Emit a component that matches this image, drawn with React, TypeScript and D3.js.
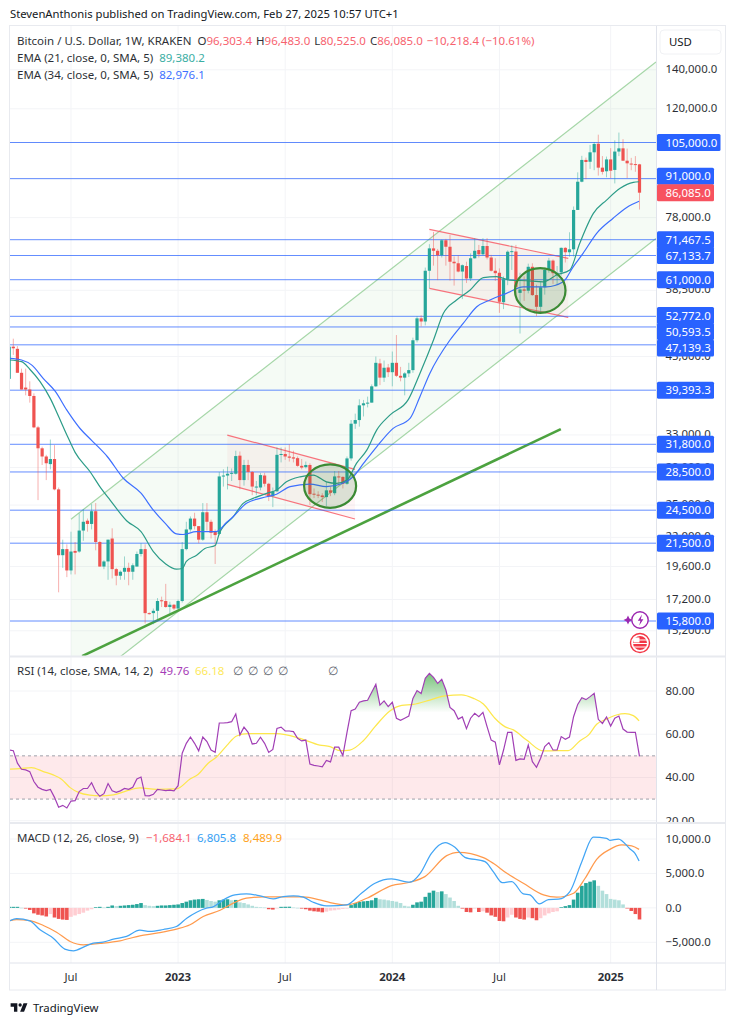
import React from "react";
import * as d3 from "d3";

type Row = [number, number, number, number];

// Weekly candles, open / high / low / close, first row is the week before index 0
const ohlc2022: Row[] = [
  [41200,47700,40500,46800],[46800,48300,45300,46500],[46400,46900,42200,42200],[42200,42900,39500,39500],
  [39800,42900,38600,39500],[39500,40800,37500,38500],[38500,38900,33900,34000],[34000,34200,25500,31300],
  [31300,31500,29300,30300],[30300,30500,27600,29500],[29400,32400,28800,30000],[30000,31700,26500,26600],
  [26600,26800,17700,20500],[20500,21800,19500,21000],[21000,21400,18800,19300],[19300,22500,19000,20800],
  [20850,21600,19000,20700],[20800,24200,20700,22600],[22600,24600,21700,23400],[23500,23700,22500,23200],
  [23200,25100,22700,24400],[24400,25200,20900,21600],[21600,21700,19600,19600],[19600,20100,19400,20000],
  [20000,21800,18600,21800],[21900,22800,18700,19400],[19400,19500,18200,18900],[18900,19300,18600,19200],
  [19200,20400,18600,19500],[19500,19900,18200,19200],[19200,19850,18600,19700],[19600,20800,19600,20600],
  [20600,21500,20400,21000],[21000,21400,15650,16300],[16300,16350,16200,16250],[16300,16600,15600,16450],
  [16450,17300,15900,17100],[17150,17400,16700,17100],[17100,18300,16650,16700],[16700,17050,16300,16850],
  [16850,16900,16500,16600],
];
const ohlc2023: Row[] = [
  [16600,17200,16550,17100],[17100,21600,17000,21000],[21000,23400,20900,22700],[22700,23900,22500,23700],
  [23700,24250,22700,23000],[23000,23000,21500,21800],[21800,25200,21700,24300],[24300,25200,22600,23400],
  [23400,23600,21900,22400],[22500,22700,19800,22200],[22300,28500,22200,28000],[28000,28800,26900,28100],
  [28100,29100,26600,28300],[28300,28900,27500,28400],[28300,31000,28200,30350],[30400,30900,26600,27600],
  [27600,29900,27000,29300],[29300,29900,27600,28500],[28500,28600,26000,26900],[26800,27500,26000,26900],
  [26800,28400,26500,28150],[28100,28400,26900,27200],[27200,27300,25400,25900],[25900,26800,24800,26350],
  [26400,31400,26300,30500],[30500,31400,29600,30600],[30600,31400,29900,30300],[30300,31800,29700,30150],
  [30200,31000,29600,30050],[30100,30300,29100,29200],[29200,30000,28800,29000],[29050,29700,28900,29300],
  [29300,29500,25000,26100],[26150,26700,25700,26050],[26050,26400,25700,25970],[25970,26200,25300,25800],
  [25800,27400,24900,26500],[26500,26900,25900,26250],[26200,28600,26000,28000],
  [28000,28600,27000,27950],[27950,28000,26700,27200],[27200,30300,27100,30070],[30070,35000,29800,34500],
  [34500,35900,33800,35000],[35000,38000,34100,37100],[37100,37900,35500,37400],[37400,38400,36800,37500],
  [37500,40300,37500,40000],[40000,45000,39900,43900],[43800,44600,40200,41400],[41400,44300,40700,43050],
];
const ohlc2024: Row[] = [
  [43100,43700,41500,42300],[42300,45900,40000,43900],[43900,49000,41500,41700],[41700,43200,40800,41400],
  [41400,42300,38600,42100],[42100,43900,41500,42650],[42650,48500,42200,48000],[48000,52800,47600,52350],
  [52350,53000,50700,51700],[51700,64000,50900,63200],[63200,70200,59000,69050],[69050,73700,64500,68400],
  [68400,68900,60900,67200],[67200,71500,66600,71300],[71300,71700,64500,69500],[69500,72800,60800,65500],
  [65500,66900,59600,65100],[65100,67200,62800,63000],[63000,64800,56500,64600],[64400,65500,60200,61300],
  [61300,67700,60700,66400],[66400,71900,66300,68400],[68600,70000,66600,67450],[67450,71900,67200,69700],
  [69700,71900,66100,66600],[66600,67300,63000,63200],[63200,66400,60700,62600],[62700,63800,53500,55900],
  [55800,61800,54300,61100],[61100,68500,59700,68150],[68150,69900,63400,68300],[68200,70000,57100,59300],
  [57900,62700,49300,58700],[58700,61800,56100,58400],[58400,65000,57800,64200],[64200,65100,57200,57400],
  [57400,59800,52800,54800],[54800,60600,53600,59200],[59200,64000,57500,63400],[63400,66500,62700,65800],
  [65800,66100,60000,62600],[62200,64400,59800,62700],[62800,69300,62000,69200],[69200,69400,65300,68000],
  [68000,73600,66800,68800],[68800,81500,66900,80400],[80400,93300,80400,89900],[89900,99600,89700,98000],
  [98000,98900,90800,97200],[97300,104000,94600,101000],[101000,105200,94100,104400],[104500,108300,92100,95050],
  [95050,99500,92500,93500],
];
const ohlc2025: Row[] = [
  [93700,99300,91500,98200],[98200,102700,91200,93900],[94200,105900,89300,101300],[101300,109200,99500,102600],
  [102600,106400,97700,97700],[97700,102500,91200,96700],[96600,98800,94100,96400],[96400,99500,93500,96303.4],
  [96303.4,96483,80525,86085],
];
const candles: Row[] = [...ohlc2022, ...ohlc2023, ...ohlc2024, ...ohlc2025];

// EMA lines: week index, price
const ema21Weeks = [-1,2,4,6.5,9,11,13,15,18.6,21,23.5,27.5,31,34,37,39.6,41,42,44.5,46.5,49,50,53.4,55.8,58.2,61.5,63.9,66.3,69.6,72.8,76,78.5,81,83.3,85.8,88.2,91.4,95.9,98.7,102,104.4,107.6,110.9,114.1,117.3,120.5,124.6,128.6,131.9,135.1,137.5,140.8,144,147.3,150.5,151.9];
const ema21Values = [44400,44100,42800,40750,38100,35500,33000,30800,28550,26900,25500,23500,22500,20800,19800,19400,19450,20000,20500,21050,21300,22340,23870,25170,25670,26180,26530,27410,27960,28150,27410,27250,27600,29480,31070,33640,35690,37990,42100,48050,53400,56300,58560,61500,61750,60900,60750,60500,62150,63400,70450,79300,83600,87600,89700,89900];
const ema34Weeks = [-1,2,4.5,7.3,10.2,13,16.2,19,22.8,26.7,31,34,37,39.6,41.2,44.4,47.6,49.2,51.8,53.4,56.6,61.5,63.9,67.2,72,76,80,82.5,85,88.2,92.2,96.3,98.7,101.1,106,109.2,112.5,115.7,119.7,123.8,129.4,133.5,135.9,138.3,141.6,145.6,148.9,151.9];
const ema34Values = [44700,44400,43500,41250,39200,36400,33850,32300,30300,27800,26200,24500,23200,22300,22250,22500,22500,22500,23350,23900,25170,25840,26100,26890,27170,26890,27250,27960,29480,31490,33870,35230,38400,42100,48050,51300,54800,56300,57800,59300,59300,60500,64200,67700,73300,77800,81200,83200];

// RSI, one value per week
const rsi2022 = [52.7,52.4,46.6,43.8,43.5,42.7,38.1,35.5,34.5,33.9,34.5,30.8,26.2,27.1,25.9,29.1,29.3,33.5,34.9,34.9,37.6,33.5,31.3,32.5,37.2,33.8,33.1,33.8,34.9,34.5,35.5,39.3,40.2,31.6,31.5,32.2,34.5,34.2,33.9,34.1,33.8];
const rsi2023 = [36.2,51.2,55.8,58.7,55.8,52.3,58.7,56.6,52.7,51.6,65.2,65.2,65.4,65.8,69.4,59.7,63.3,60.9,55.5,55.8,58.6,55.8,51.6,53.0,62.7,63.3,61.5,61.5,61.2,58.1,56.9,57.3,46.2,45.6,45.3,44.9,47.9,47.2,54.0,54.0,50.1,60.9,70.9,71.7,74.8,75.4,75.7,79.4,83.1,73.5,75.4,72.8];
const rsi2024 = [74.8,67.4,66.4,67.4,68.4,76.6,80.2,78.8,85.9,88.2,86.3,83.5,85.4,80.5,72.4,70.9,67.0,68.0,62.6,67.4,69.7,68.1,70.1,63.5,57.3,56.3,45.8,52.7,60.9,60.9,47.9,48.6,48.4,55.0,47.3,44.7,48.9,54.3,56.1,52.7,52.7,58.9,57.7,58.7,68.1,73.8,76.9,76.0,77.4,78.9,66.9,65.0,68.0];
const rsi2025 = [63.8,67.4,68.4,62.4,61.0,60.9,60.9,49.76];
const rsi = [...rsi2022, ...rsi2023, ...rsi2024, ...rsi2025];

const rsiMaWeeks = [-0.8,1.6,4.4,7.3,9.7,11.7,13.8,15.8,18.6,21,24.3,27.5,30.7,34.8,39.6,42.9,44.9,47.3,49.4,51.8,54.2,57,60.7,63.9,66.3,69.6,74.4,76.9,79.3,81.7,84.9,87.8,91.4,94.3,97.1,101.1,104.8,108.8,111.7,114.1,116.9,119.4,121.4,124.6,128.6,131.9,134.7,137.5,139.6,141.6,144,146.4,148.5,150.5,151.9];
const rsiMaValues = [43.9,44.1,44.6,42.7,41.2,39.2,35.3,33.1,31.8,31.5,31.9,33.8,35.2,34.5,34.7,39.3,41.5,46.6,49.6,54.7,59.2,60.3,60.3,60.3,59.7,58.1,55.0,54.3,52.4,52.7,56.9,63.5,70.8,73.4,73.8,75.8,77.8,78.2,76.6,74,67.4,63.4,62,57.3,52.3,52.4,52.4,56.9,59.6,64.6,67,68.9,69.5,68.6,66.2];

// MACD lines and histogram
const macdWeeks = [-0.8,0.8,4,6.5,9.7,12.5,14.6,17.4,19.4,21.8,24.3,27.5,30.7,33.2,36.4,39.6,42.1,44.5,46.9,48.5,51,53.8,56.6,59.9,63.1,65.5,68,70.4,72.8,76,76.9,80.9,84.5,87.8,91.8,96.3,98.7,101.5,104.8,107.2,109.6,114.5,116.5,118.7,121,123.8,125.4,127.7,129.9,132.3,135.1,138,140.8,144,144.8,146.9,149.7,150.9,151.9];
const macdValues = [-1880,-1550,-1880,-3190,-4400,-5990,-6230,-5600,-5120,-4980,-4540,-4150,-3240,-3430,-3140,-2710,-1500,-630,-50,140,1160,1880,2030,1740,1300,1640,1740,1550,820,290,290,430,2130,3570,4200,3720,4930,7920,9470,8790,7340,6710,5270,3670,3820,2030,1880,580,1210,1260,2370,6710,10290,10100,9810,10000,8550,7920,6805.8];
const signalWeeks = [-0.8,0.8,4,7.3,10.5,13.8,17,21.8,25.9,30.7,34.8,39.6,42.9,46.1,50.2,53.4,56.6,60.7,65.5,70.4,74.4,76.9,80.9,85.8,91.8,96.3,99.9,105.2,108,114.1,116.5,119.8,123.8,128.7,131.9,136,138.8,141.6,144.8,147.7,150.1,151.9];
const signalValues = [-1840,-1690,-1840,-2560,-3530,-4880,-5360,-5120,-4780,-4060,-3670,-3090,-2460,-1260,-340,680,1400,1590,1590,1590,1160,770,430,1400,3240,3720,4540,7580,8070,7290,6470,5020,3570,1880,1550,2130,4300,7050,8500,9130,8990,8489.9];
const hist2022 = [150,150,150,20,-100,-300,-800,-1000,-1100,-1250,-900,-1400,-1600,-1700,-1750,-1300,-1100,-900,-700,-400,-200,100,150,50,150,350,250,300,350,400,450,550,700,400,300,250,300,350,350,400,450];
const hist2023 = [500,700,900,1100,1200,1250,1300,1150,1000,900,1100,1200,1250,1100,1150,800,700,500,300,150,100,50,-200,-250,-20,150,160,170,50,10,-100,-200,-400,-500,-550,-650,-550,-400,-350,-250,-150,-100,400,700,850,950,1000,1100,1450,1250,1200,1100];
const hist2024 = [1000,900,700,300,200,450,800,900,1600,2200,2500,2300,2400,2000,1500,1000,300,-100,-600,-650,-100,-600,-500,-700,-1100,-1300,-1900,-1950,-1400,-1000,-1400,-1600,-1700,-1400,-1500,-1800,-1500,-1100,-800,-600,-500,100,250,400,1200,2200,3200,3600,3800,4000,3200,2500,2000];
const hist2025 = [1300,1200,1100,500,-50,-450,-900,-1684.1];
const hist = [...hist2022, ...hist2023, ...hist2024, ...hist2025];

// Levels and tick labels
const levels = [105000,91000,71467.5,67133.7,61000,52772,50593.5,47139.3,39393.3,31800,28500,24500,21500,15800];
const priceTicks = [140000,120000,78000,58500,45000,33000,29000,25000,22000,19600,17200,15200];
const lastClose = 86085;
const rsiTicks = [80,60,40,20];
const macdTicks = [10000,5000,0,-5000];
const timeLabels = ["Jul","2023","Jul","2024","Jul","2025"];
const timeWeeks = [14,40,66,92,118,145];

// Drawing objects: week index, price
const channelUpper: [number, number][] = [[14,23640],[156,144400]];
const channelLower: [number, number][] = [[14,11780],[156,71800]];
const trendLine: [number, number][] = [[16.7,13750],[132.9,33770]];
const flag1: [number, number][] = [[51.94,32980],[82.94,28800],[82.94,23660],[51.94,27140]];
const flag2: [number, number][] = [[101,74460],[134.7,66390],[134.7,52560],[101,58960]];
const ellipses: [number, number][] = [[76.9,26950],[127.9,58450]];

const FONT = "'Noto Sans', sans-serif";
const GREEN = "#26a69a";
const RED = "#ef5350";
const BLUE = "#2962ff";
const TEXT = "#131722";

const PANE = { l: 10, r: 656, t: 26, b: 656 };
const x = d3.scaleLinear().domain([0, 152]).range([13.3, 639.5]);
const y = d3.scaleLog().domain([15800, 105000]).range([621, 142.5]);
const yRsi = d3.scaleLinear().domain([20, 80]).range([820.7, 691]);
const yMacd = d3.scaleLinear().domain([-5000, 10000]).range([942.3, 839]);

const fmt = (v: number) => d3.format(",.1f")(v);
const nudge: Record<string, number> = { "91,000.0": -2.4, "86,085.0": 0, "52,772.0": -0.7, "50,593.5": 4.6, "47,139.3": 3.2 };

const priceLine = d3.line<[number, number]>().x((d) => x(d[0])).y((d) => y(d[1]));
const smooth = (ws: number[], vs: number[], sy: (v: number) => number) =>
  d3.line<number>().x((_, i) => x(ws[i])).y((v) => sy(v)).curve(d3.curveMonotoneX)(vs) ?? "";
const idx = (i: number) => i - 1;

function Candles() {
  return (
    <g>
      {candles.map(([o, h, l, c], i) => {
        const col = c >= o ? GREEN : RED;
        const cx = x(idx(i));
        const top = y(Math.max(o, c));
        const bot = y(Math.min(o, c));
        return (
          <g key={i}>
            <line x1={cx} x2={cx} y1={y(h)} y2={y(l)} stroke={col} strokeWidth={0.9} opacity={0.5} />
            <rect x={cx - 1.6} width={3.2} y={top} height={Math.max(bot - top, 1)} fill={col} />
          </g>
        );
      })}
    </g>
  );
}

function Legend() {
  const red = "#f7525f";
  return (
    <g fontSize={11.5} fill={TEXT} opacity={0.9}>
      <text x={17} y={45}>
        Bitcoin / U.S. Dollar, 1W, KRAKEN
        <tspan dx={6}>O</tspan><tspan fill={red}>96,303.4</tspan>
        <tspan dx={4}>H</tspan><tspan fill={red}>96,483.0</tspan>
        <tspan dx={4}>L</tspan><tspan fill={red}>80,525.0</tspan>
        <tspan dx={4}>C</tspan><tspan fill={red}>86,085.0</tspan>
        <tspan dx={4} fill={red}>−10,218.4 (−10.61%)</tspan>
      </text>
      <text x={17} y={62}>EMA (21, close, 0, SMA, 5)<tspan dx={6} fill={GREEN}>89,380.2</tspan></text>
      <text x={17} y={79}>EMA (34, close, 0, SMA, 5)<tspan dx={6} fill={BLUE}>82,976.1</tspan></text>
      <text x={17} y={675}>RSI (14, close, SMA, 14, 2)</text>
      <text x={160} y={675} fill="#9c27b0">49.76</text>
      <text x={195} y={675} fill="#fde74c">66.18</text>
      {[233, 248, 263, 278, 328].map((tx) => (
        <text key={tx} x={tx} y={675} fill="#50535e">∅</text>
      ))}
      <text x={17} y={842}>MACD (12, 26, close, 9)</text>
      <text x={146} y={842} fill={red}>−1,684.1</text>
      <text x={197} y={842} fill="#2196f3">6,805.8</text>
      <text x={243} y={842} fill="#ff9800">8,489.9</text>
    </g>
  );
}

function AxisLabel({ v }: { v: number }) {
  const s = fmt(v);
  const cy = y(v) + (nudge[s] ?? 0);
  const wide = v >= 100000;
  const col = v === lastClose ? "#f7525f" : BLUE;
  return (
    <g>
      <rect x={657} y={cy - 8.5} width={wide ? 63.5 : 57} height={17} rx={1.5} fill={col} />
      <text x={665.5} y={cy + 4} fill="#fff" fontSize={11.4}>{s}</text>
    </g>
  );
}

export default function App() {
  const rsiOverArea = d3.area<number>().x((_, i) => x(idx(i))).y0(yRsi(70)).y1((v) => yRsi(v))(rsi) ?? "";
  const rsiPath = d3.line<number>().x((_, i) => x(idx(i))).y((v) => yRsi(v))(rsi) ?? "";
  const gridPrices = [...priceTicks, 105000, 91000];
  const labelLevels = [...levels, lastClose].sort((a, b) => b - a);
  return (
    <svg width={735} height={1024} viewBox="0 0 735 1024" fontFamily={FONT}
      style={{ position: "absolute", left: 0, top: 0, background: "#fff" }}>
      <defs>
        <clipPath id="pane"><rect x={PANE.l} y={PANE.t} width={PANE.r - PANE.l} height={PANE.b - PANE.t} /></clipPath>
        <clipPath id="rsiPane"><rect x={PANE.l} y={657} width={PANE.r - PANE.l} height={165} /></clipPath>
        <clipPath id="macdPane"><rect x={PANE.l} y={824} width={PANE.r - PANE.l} height={139} /></clipPath>
        <clipPath id="over70"><rect x={PANE.l} y={657} width={PANE.r - PANE.l} height={yRsi(70) - 657} /></clipPath>
        <clipPath id="axisClip"><rect x={657} y={657} width={68} height={165} /></clipPath>
        <linearGradient id="overGrad" x1="0" y1={yRsi(88)} x2="0" y2={yRsi(70)} gradientUnits="userSpaceOnUse">
          <stop offset="0" stopColor="#4caf50" stopOpacity={0.75} />
          <stop offset="1" stopColor="#4caf50" stopOpacity={0} />
        </linearGradient>
      </defs>

      <text x={10} y={18} fontSize={11.26} fill={TEXT}>StevenAnthonis published on TradingView.com, Feb 27, 2025 10:57 UTC+1</text>

      {/* grid */}
      <g stroke="#f3f4f7" strokeWidth={1}>
        {timeWeeks.map((w) => <line key={w} x1={x(w)} x2={x(w)} y1={PANE.t} y2={963} />)}
        {gridPrices.map((p) => <line key={p} x1={PANE.l} x2={PANE.r} y1={y(p)} y2={y(p)} />)}
        {rsiTicks.map((t) => <line key={t} x1={PANE.l} x2={PANE.r} y1={yRsi(t)} y2={yRsi(t)} />)}
        {macdTicks.map((t) => <line key={t} x1={PANE.l} x2={PANE.r} y1={yMacd(t)} y2={yMacd(t)} />)}
      </g>

      <g clipPath="url(#pane)">
        <path d={`${priceLine(channelUpper)}L${x(channelLower[1][0])},${y(channelLower[1][1])}L${x(channelLower[0][0])},${y(channelLower[0][1])}Z`} fill="#4caf50" fillOpacity={0.055} />
        <path d={priceLine(channelUpper) ?? ""} stroke="#a5d6a7" strokeWidth={1.2} fill="none" />
        <path d={priceLine(channelLower) ?? ""} stroke="#a5d6a7" strokeWidth={1.2} fill="none" />
        {[flag1, flag2].map((f, i) => (
          <g key={i}>
            <path d={`${priceLine(f)}Z`} fill="#f23645" fillOpacity={0.05} />
            <path d={priceLine([f[0], f[1]]) ?? ""} stroke="#f7525f" strokeWidth={1.2} opacity={0.8} fill="none" />
            <path d={priceLine([f[3], f[2]]) ?? ""} stroke="#f7525f" strokeWidth={1.2} opacity={0.8} fill="none" />
          </g>
        ))}
        <path d={priceLine(trendLine) ?? ""} stroke="#4ca23f" strokeWidth={2.6} fill="none" />
        {levels.map((p) => (
          <line key={p} x1={PANE.l} x2={PANE.r} y1={y(p)} y2={y(p)} stroke={BLUE} strokeWidth={1} opacity={0.72} />
        ))}
        <Candles />
        <path d={smooth(ema21Weeks, ema21Values, y)} stroke="#2c9c88" strokeWidth={1.2} fill="none" />
        <path d={smooth(ema34Weeks, ema34Values, y)} stroke="#3d6fff" strokeWidth={1.2} fill="none" />
        {ellipses.map(([w, p], i) => (
          <ellipse key={i} cx={x(w)} cy={y(p)} rx={i ? 25.3 : 26} ry={i ? 22.3 : 21.7}
            fill="#2e7d32" fillOpacity={0.17} stroke="#3b8a34" strokeWidth={2.2} />
        ))}
      </g>

      {/* RSI pane */}
      <g clipPath="url(#rsiPane)">
        <rect x={PANE.l} width={PANE.r - PANE.l} y={yRsi(50)} height={yRsi(30) - yRsi(50)} fill="#f23645" fillOpacity={0.11} />
        <path d={rsiOverArea} fill="url(#overGrad)" clipPath="url(#over70)" />
        {[50, 30].map((t) => (
          <line key={t} x1={PANE.l} x2={PANE.r} y1={yRsi(t)} y2={yRsi(t)} stroke="#9598a1" strokeDasharray="3 3" strokeWidth={0.9} />
        ))}
        <path d={smooth(rsiMaWeeks, rsiMaValues, yRsi)} stroke="#fde74c" strokeWidth={1.25} fill="none" />
        <path d={rsiPath} stroke="#a13fb5" strokeWidth={1.2} fill="none" />
      </g>

      {/* MACD pane */}
      <g clipPath="url(#macdPane)">
        {hist.map((v, i) => {
          const prev = i > 0 ? hist[i - 1] : v;
          const col = v >= 0 ? (v >= prev ? GREEN : "#b2dfdb") : (v <= prev ? RED : "#ffcdd2");
          const y0 = yMacd(0);
          const yv = yMacd(v);
          return <rect key={i} x={x(idx(i)) - 1.8} width={3.6} y={Math.min(y0, yv)} height={Math.max(Math.abs(yv - y0), 0.6)} fill={col} />;
        })}
        <path d={smooth(signalWeeks, signalValues, yMacd)} stroke="#ff9a4d" strokeWidth={1.25} fill="none" />
        <path d={smooth(macdWeeks, macdValues, yMacd)} stroke="#42a5f5" strokeWidth={1.25} fill="none" />
      </g>

      {/* frame */}
      <g stroke="#e8eaef" fill="none">
        <rect x={9.5} y={25.5} width={716} height={964.5} strokeWidth={1} />
        <line x1={656.5} x2={656.5} y1={26} y2={990} strokeWidth={1} stroke="#e0e3eb" />
        <line x1={10} x2={725} y1={656.5} y2={656.5} strokeWidth={2} />
        <line x1={10} x2={725} y1={823} y2={823} strokeWidth={2} />
        <line x1={10} x2={725} y1={963} y2={963} strokeWidth={1} stroke="#e0e3eb" />
      </g>

      <Legend />

      {/* right axis */}
      <rect x={660} y={30} width={61} height={24} rx={4} fill="#fff" stroke="#f0f1f4" />
      <text x={669} y={46} fontSize={11.4} fill={TEXT}>USD</text>
      <g fontSize={11.4} fill={TEXT} opacity={0.9}>
        {priceTicks.map((p) => <text key={p} x={665.5} y={y(p) + 3}>{fmt(p)}</text>)}
        <g clipPath="url(#axisClip)">
          {rsiTicks.map((t) => <text key={t} x={665.5} y={yRsi(t) + 4}>{t.toFixed(2)}</text>)}
        </g>
        {macdTicks.map((t) => <text key={t} x={665.5} y={yMacd(t) + 4}>{t < 0 ? "−" + fmt(-t) : fmt(t)}</text>)}
      </g>
      {labelLevels.map((v) => <AxisLabel key={v} v={v} />)}

      {/* event icons */}
      <g>
        <path d="M628 615.5l1.4 3.1 3.1 1.4-3.1 1.4-1.4 3.1-1.4-3.1-3.1-1.4 3.1-1.4z" fill="#9c27b0" />
        <circle cx={640} cy={620} r={8.2} fill="#fff" stroke="#9c27b0" strokeWidth={1.4} />
        <path d="M642 614.5l-4.2 6.2h2.6l-1.2 4.8 4.2-6.2h-2.6z" fill="#9c27b0" />
        <circle cx={640} cy={643} r={9.5} fill="#fff" stroke="#f23645" strokeWidth={1.4} />
        <circle cx={640} cy={643} r={7} fill="#f23645" />
        <path d="M633 640h14M633 643.5h14M634 647h12" stroke="#fff" strokeWidth={1.1} />
        <path d="M633.5 637.5h6v5h-6z" fill="#fff" />
      </g>

      {/* time axis */}
      {timeLabels.map((t, i) => (
        <text key={i} x={x(timeWeeks[i])} y={981} textAnchor="middle" fontSize={11.4} fill={TEXT}
          fontWeight={t === "Jul" ? 400 : 700} opacity={0.9}>{t}</text>
      ))}

      {/* logo */}
      <g transform="translate(9.5 1000) scale(0.56)">
        <path d="M14 6H2v6h6v9h6V6Zm12 15h-7l6-15h7l-6 15Zm-7-9a3 3 0 1 0 0-6 3 3 0 0 0 0 6Z" fill="#131722" />
      </g>
      <text x={33} y={1012} fontSize={11.4} fill={TEXT}>TradingView</text>
    </svg>
  );
}
